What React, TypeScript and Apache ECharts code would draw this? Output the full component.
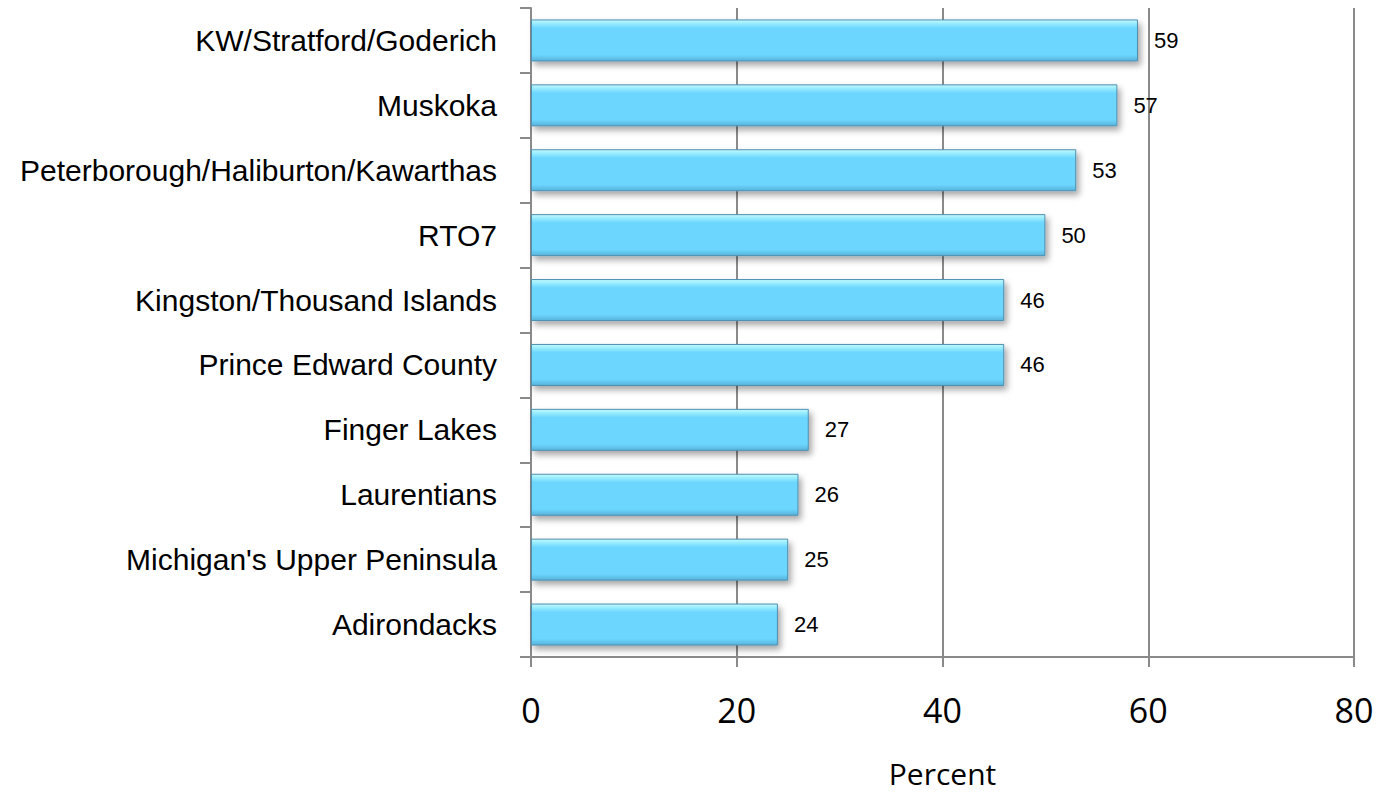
import React, { useEffect, useRef } from "react";
import * as echarts from "echarts";

const categories = [
  "KW/Stratford/Goderich",
  "Muskoka",
  "Peterborough/Haliburton/Kawarthas",
  "RTO7",
  "Kingston/Thousand Islands",
  "Prince Edward County",
  "Finger Lakes",
  "Laurentians",
  "Michigan's Upper Peninsula",
  "Adirondacks",
];
const values = [59, 57, 53, 50, 46, 46, 27, 26, 25, 24];
const xAxisName = "Percent";

export default function App() {
  const ref = useRef<HTMLDivElement>(null);
  useEffect(() => {
    if (!ref.current) return;
    const chart = echarts.init(ref.current, null, { renderer: "svg" });
    const gray = "#8a8a8a";
    chart.setOption({
      animation: false,
      backgroundColor: "#ffffff",
      grid: {
        left: 531,
        right: 24,
        top: 8,
        bottom: 136,
        containLabel: false,
        outerBoundsMode: "none",
      },
      xAxis: {
        type: "value",
        min: 0,
        max: 80,
        interval: 20,
        name: xAxisName,
        nameLocation: "middle",
        nameGap: 100,
        nameTextStyle: {
          fontFamily: "'Open Sans', sans-serif",
          fontSize: 30,
          lineHeight: 32,
          color: "#000",
        },
        axisLine: { show: true, lineStyle: { color: gray, width: 2 } },
        axisTick: { show: true, length: 10, lineStyle: { color: gray, width: 2 } },
        axisLabel: { fontFamily: "'Open Sans', sans-serif", fontSize: 34, color: "#000", margin: 36 },
        splitLine: { show: true, lineStyle: { color: gray, width: 2 } },
      },
      yAxis: {
        type: "category",
        data: categories,
        inverse: true,
        axisLine: { show: true, lineStyle: { color: gray, width: 2 } },
        axisTick: { show: true, length: 11, lineStyle: { color: gray, width: 2 } },
        axisLabel: {
          fontFamily: "'Liberation Sans', Arial, sans-serif",
          fontSize: 30,
          color: "#000",
          margin: 34,
        },
      },
      series: [
        {
          type: "bar",
          data: values,
          barWidth: 42,
          itemStyle: {
            color: new echarts.graphic.LinearGradient(0, 0, 0, 1, [
              { offset: 0, color: "#c4faff" },
              { offset: 0.1, color: "#93eaff" },
              { offset: 0.2, color: "#6dd6fe" },
              { offset: 0.85, color: "#6dd6fe" },
              { offset: 1, color: "#57b3da" },
            ]),
            borderColor: "#4d8fb2",
            borderWidth: 1,
            shadowColor: "rgba(0,0,0,0.35)",
            shadowBlur: 6,
            shadowOffsetX: 3,
            shadowOffsetY: 4,
          },
          label: {
            show: true,
            position: "right",
            distance: 16,
            fontFamily: "'Liberation Sans', Arial, sans-serif",
            fontSize: 22,
            color: "#000",
          },
        },
      ],
    });
    return () => chart.dispose();
  }, []);
  return (
    <div
      ref={ref}
      style={{ position: "fixed", left: 0, top: 0, width: 1378, height: 793, background: "#fff" }}
    />
  );
}
